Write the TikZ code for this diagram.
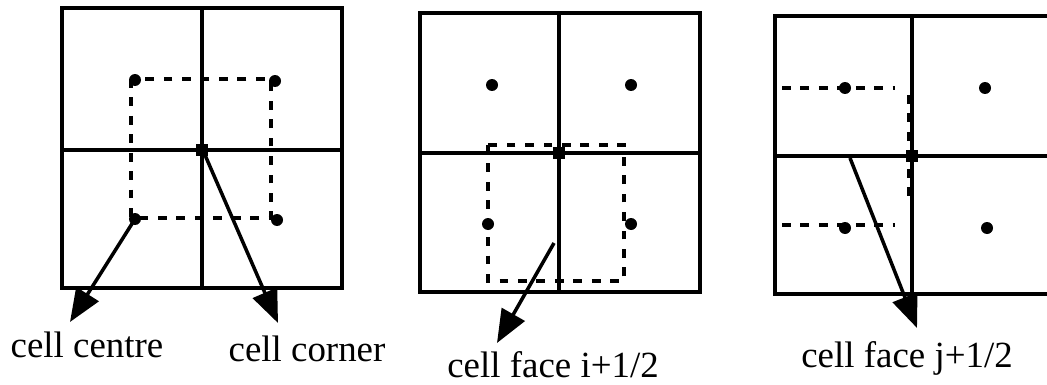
\documentclass[tikz,border=0pt]{standalone}
\usepackage{fontspec}
\setmainfont{Liberation Serif}
\usetikzlibrary{arrows.meta}
\tikzset{
  grid/.style={line width=2pt},
  dashbox/.style={line width=1.8pt,dash pattern=on 5pt off 5.5pt},
  pointer/.style={line width=2pt,-{Triangle[length=0.66cm,width=0.52cm]}},
  lbl/.style={anchor=base,font=\fontsize{21}{25}\selectfont,inner sep=0pt},
}
\newcommand{\celldot}[1]{\fill #1 circle (0.12cm);}
\newcommand{\cornerdot}[1]{\fill #1 ++(-6,-6) rectangle ++(12,12);}
\begin{document}
\begin{tikzpicture}[x=0.02cm,y=-0.02cm]
        \useasboundingbox (0,0) rectangle (1047,385);
        %% panel 1: centre and corner
        \draw[grid] (62,8) rectangle (342,288);
        \draw[grid] (202,8) -- (202,288) (62,150) -- (342,150);
        \draw[dashbox] (131,79) rectangle (271,218);
        \coordinate (C1) at (135,219);
        \coordinate (K1) at (205,155);
        \celldot{(135,80)} \celldot{(275,81)} \celldot{(135,219)} \celldot{(277,220)}
        \cornerdot{(202,150)}
        \coordinate (T1) at (70,322);
        \coordinate (T2) at (278,323);
        \node[lbl] (centre) at (87,357) {cell centre};
        \node[lbl] (corner) at (307,361) {cell corner};
        \draw[pointer] (C1) -- (T1);
        \draw[pointer] (K1) -- (T2);
        %% panel 2: face i+1/2
        \draw[grid] (420,13) rectangle (700,292);
        \draw[grid] (559,13) -- (559,292) (420,153) -- (700,153);
        \draw[dashbox] (488,145) rectangle (624,281);
        \celldot{(492,85)} \celldot{(631,85)} \celldot{(488,224)} \celldot{(631,224)}
        \cornerdot{(559,153)}
        \coordinate (F1) at (554,243);
        \coordinate (T3) at (497,343);
        \node[lbl] (facei) at (553,377) {cell face i+1/2};
        \draw[pointer] (F1) -- (T3);
        %% panel 3: face j+1/2
        \draw[grid] (1047,16) -- (775,16) -- (775,294) -- (1047,294);
        \draw[grid] (912,16) -- (912,294) (775,156) -- (1047,156);
        \draw[dashbox] (782,88) -- (895,88) (782,225) -- (895,225) (909,95) -- (909,205);
        \celldot{(845,88)} \celldot{(985,88)} \celldot{(845,228)} \celldot{(987,228)}
        \cornerdot{(912,156)}
        \coordinate (F2) at (850,158);
        \coordinate (T4) at (917,328);
        \node[lbl] (facej) at (907,367) {cell face j+1/2};
        \draw[pointer] (F2) -- (T4);
    \end{tikzpicture}
\end{document}
